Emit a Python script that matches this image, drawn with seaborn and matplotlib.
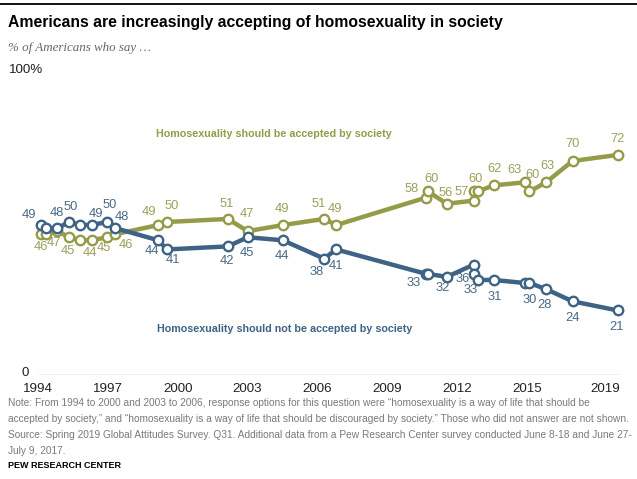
import matplotlib
matplotlib.use("Agg")
import matplotlib.pyplot as plt
import seaborn as sns
import pandas as pd

# ---------------- data ----------------
years = [1994.12, 1994.34, 1994.83, 1995.35, 1995.80, 1996.31, 1996.95, 1997.31,
         1999.17, 1999.53, 2002.15, 2003.01, 2004.52, 2006.29, 2006.81,
         2010.67, 2010.75, 2011.56, 2012.71, 2012.72, 2012.88, 2013.57,
         2014.90, 2015.11, 2015.82, 2016.96, 2018.90]
accepted = [46, 46, 47, 45, 44, 44, 45, 46, 49, 50, 51, 47, 49, 51, 49,
            58, 60, 56, 57, 60, 60, 62, 63, 60, 63, 70, 72]
not_accepted = [49, 48, 48, 50, 49, 49, 50, 48, 44, 41, 42, 45, 44, 38, 41,
                33, 33, 32, 36, 33, 31, 31, 30, 30, 28, 24, 21]
series_names = ["Homosexuality should be accepted by society",
                "Homosexuality should not be accepted by society"]
tick_years = [1994, 1997, 2000, 2003, 2006, 2009, 2012, 2015, 2019]
tick_labels = ["1994", "1997", "2000", "2003", "2006", "2009", "2012", "2015", "2019"]

# label offsets in pixels (dx, dy; dy positive = down), None = no label
acc_offsets = [(0, 13), None, (-3, 12), (-2, 14), None, (-2, 13), (-3, 11), (11, 11),
               (-9, -13), (5, -16), (-1, -15), (-1, -17), (-1, -16), (-5, -15), (-1, -16),
               (-14, -9), (4, -13), (-1, -11), (-12, -9), (2, -13), None, (1, -16),
               (-10, -12), (3, -17), (2, -16), (0, -17), (0, -16)]
not_offsets = [(-12, -10), None, (0, -15), (1, -15), None, (4, -11), (3, -17), (7, -11),
               (-6, 11), (6, 11), (-1, 15), (-1, 16), (-1, 16), (-7, 13), (0, 17),
               (-12, 9), None, (-4, 11), (-11, 14), (-3, 16), None, (1, 17),
               None, (0, 17), (-1, 16), (0, 17), (-1, 17)]

GREEN = "#949C4A"
BLUE = "#3F6384"
GREEN_TXT = "#9BA05A"
BLUE_TXT = "#4A6A86"
W, H = 637, 479

sns.set_theme(style="white")
plt.rcParams["font.family"] = ["Liberation Sans", "DejaVu Sans"]

fig = plt.figure(figsize=(W / 100, H / 100), dpi=100)
x0, x1 = 38, 620
y0, y100 = 374.5, 69.5
ax = fig.add_axes([x0 / W, (H - y0) / H, (x1 - x0) / W, (y0 - y100) / H])

df = pd.DataFrame({
    "year": years * 2,
    "value": accepted + not_accepted,
    "series": [series_names[0]] * len(years) + [series_names[1]] * len(years),
})

ax.axhline(0, color="#8a8a8a", lw=0.9, zorder=1)

for name, col in zip(series_names, [GREEN, BLUE]):
    sns.lineplot(data=df[df.series == name], x="year", y="value", ax=ax,
                 color=col, estimator=None, sort=False, linewidth=3.2,
                 marker="o", markersize=6.8, markerfacecolor="white",
                 markeredgecolor=col, markeredgewidth=1.7, legend=False,
                 clip_on=False, zorder=3)

for vals, offs, col in [(accepted, acc_offsets, GREEN_TXT), (not_accepted, not_offsets, BLUE_TXT)]:
    for x, v, o in zip(years, vals, offs):
        if o is None:
            continue
        ax.annotate(str(v), (x, v), xytext=(o[0], -o[1]), textcoords="offset pixels",
                    ha="center", va="center", color=col, fontsize=9.3)

ax.set_xlim(1994, 2019)
ax.set_ylim(0, 100)
ax.set_xticks(tick_years)
ax.set_xticklabels(tick_labels)
for lbl in ax.get_xticklabels():
    lbl.set_fontsize(9.6)
    lbl.set_color("#222222")
ax.get_xticklabels()[-1].set_horizontalalignment("right")
ax.tick_params(axis="x", length=0, pad=6)
ax.set_yticks([])
ax.set_xlabel("")
ax.set_ylabel("")
for s in ax.spines.values():
    s.set_visible(False)
ax.patch.set_alpha(0)

renderer = fig.canvas.get_renderer()


def fit(t, width_px):
    w = t.get_window_extent(renderer).width
    t.set_fontsize(t.get_fontsize() * width_px / w)


def fy(py):
    return 1 - py / H


def fx(px):
    return px / W


# y labels
fig.text(fx(29), fy(373), "0", ha="right", va="center", fontsize=9.6, color="#222222")
fig.text(fx(9), fy(70), "100%", ha="left", va="center", fontsize=9.6, color="#222222")

# series labels
t1 = fig.text(fx(156), fy(134), series_names[0], ha="left", va="center",
              fontweight="bold", color=GREEN, fontsize=8)
fit(t1, 238)
fig.text(fx(157), fy(329), series_names[1], ha="left", va="center",
         fontweight="bold", color=BLUE, fontsize=t1.get_fontsize())

# top rule, title, subtitle
fig.add_artist(plt.Line2D([0, 1], [fy(3.5), fy(3.5)], color="black", lw=1.3,
                          transform=fig.transFigure))
tt = fig.text(fx(8), fy(22), "Americans are increasingly accepting of homosexuality in society",
              ha="left", va="center", fontweight="bold", color="black", fontsize=12)
fit(tt, 492)
st = fig.text(fx(8), fy(48), "% of Americans who say \u2026", ha="left", va="center",
              fontstyle="italic", family=["Liberation Serif", "DejaVu Serif"],
              color="#666666", fontsize=9.4)

# notes
NARROW = ["Liberation Sans Narrow", "Liberation Sans", "DejaVu Sans"]
notes = [
    "Note: From 1994 to 2000 and 2003 to 2006, response options for this question were \u201chomosexuality is a way of life that should be",
    "accepted by society,\u201d and \u201chomosexuality is a way of life that should be discouraged by society.\u201d Those who did not answer are not shown.",
    "Source: Spring 2019 Global Attitudes Survey. Q31. Additional data from a Pew Research Center survey conducted June 8-18 and June 27-",
    "July 9, 2017.",
]
note_y = [403, 419, 435, 451]
nts = []
for s, y in zip(notes, note_y):
    nts.append(fig.text(fx(8), fy(y), s, ha="left", va="center", family=NARROW,
                        color="#7a7a7a", fontsize=8))
fit(nts[1], 622)
for t in nts:
    t.set_fontsize(nts[1].get_fontsize())

pw = fig.text(fx(8), fy(465), "PEW RESEARCH CENTER", ha="left", va="center",
              family=NARROW, fontweight="bold", color="black", fontsize=8)
fit(pw, 112)

fig.savefig("out.png", dpi=100, facecolor="white")
